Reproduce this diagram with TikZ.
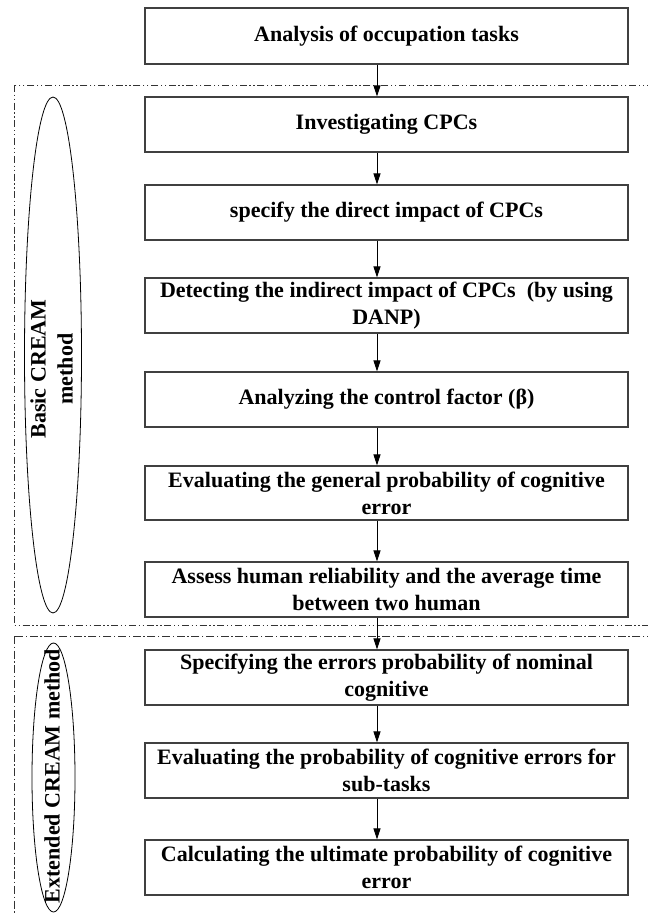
\documentclass[tikz,border=0pt]{standalone}
\usepackage{fontspec}
\setmainfont{Liberation Serif}
\usetikzlibrary{arrows.meta,shapes.geometric}
\tikzset{
  x=1bp, y=1bp,
  txt/.style={font=\fontsize{22bp}{27bp}\selectfont\bfseries},
  stepbox/.style={draw=black!75, line width=1.1bp, rectangle, minimum width=483bp, inner sep=0pt, align=center, txt},
  arr/.style={line width=0.9bp, -{Triangle[length=11bp,width=7bp]}},
  ell/.style={draw, ellipse, line width=0.8bp, inner sep=0pt},
  frameA/.style={line width=0.9bp, draw=black!80, dash pattern=on 7bp off 2.7bp on 1.3bp off 2.7bp on 1.3bp off 2.7bp},
  frameB/.style={line width=0.9bp, draw=black!80, dash pattern=on 8bp off 2.7bp on 1.3bp off 2.7bp},
}
\begin{document}
\begin{tikzpicture}
\useasboundingbox (0,0) rectangle (648,-915);
\fill[white] (0,0) rectangle (648,-915);
\begin{scope}
\clip (0,0) rectangle (648,-915);
\draw[frameA] (14,-85) rectangle (670,-625);
\draw[frameB] (14,-636) rectangle (670,-940);
\end{scope}

\coordinate (ax) at (377,0);

\node[stepbox, minimum height=56bp] (b1) at (386.5,-36) {Analysis of occupation tasks};
\node[stepbox, minimum height=55bp] (b2) at (386.5,-124.5) {Investigating CPCs};
\node[stepbox, minimum height=55bp] (b3) at (386.5,-212.5) {specify the direct impact of CPCs};
\node[stepbox, minimum height=55bp] (b4) at (386.5,-305.5) {Detecting the indirect impact of CPCs~ (by using\\DANP)};
\node[stepbox, minimum height=55bp] (b5) at (386.5,-399.5) {Analyzing the control factor (β)};
\node[stepbox, minimum height=54bp] (b6) at (386.5,-493) {Evaluating the general probability of cognitive\\error};
\node[stepbox, minimum height=55bp] (b7) at (386.5,-589.5) {Assess human reliability and the average time\\between two human};
\node[stepbox, minimum height=55bp] (b8) at (386.5,-677.5) {Specifying the errors probability of nominal\\cognitive};
\node[stepbox, minimum height=55bp] (b9) at (386.5,-770.5) {Evaluating the probability of cognitive errors for\\sub-tasks};
\node[stepbox, minimum height=55bp] (b10) at (386.5,-867.5) {Calculating the ultimate probability of cognitive\\error};

\foreach \a/\b in {b1/b2,b2/b3,b3/b4,b4/b5,b5/b6,b6/b7,b7/b8,b8/b9,b9/b10}
  \draw[arr] (ax |- \a.south) -- (ax |- \b.north);

\node[ell, minimum width=57bp, minimum height=516bp] (e1) at (53,-355) {};
\node[ell, minimum width=43bp, minimum height=269bp] (e2) at (53.5,-777.5) {};

\node[txt, rotate=90, align=center] (t1) at (51.5,-369) {Basic CREAM\\method};
\node[txt, rotate=90] (t2) at (52,-776) {Extended CREAM method};
\end{tikzpicture}
\end{document}
